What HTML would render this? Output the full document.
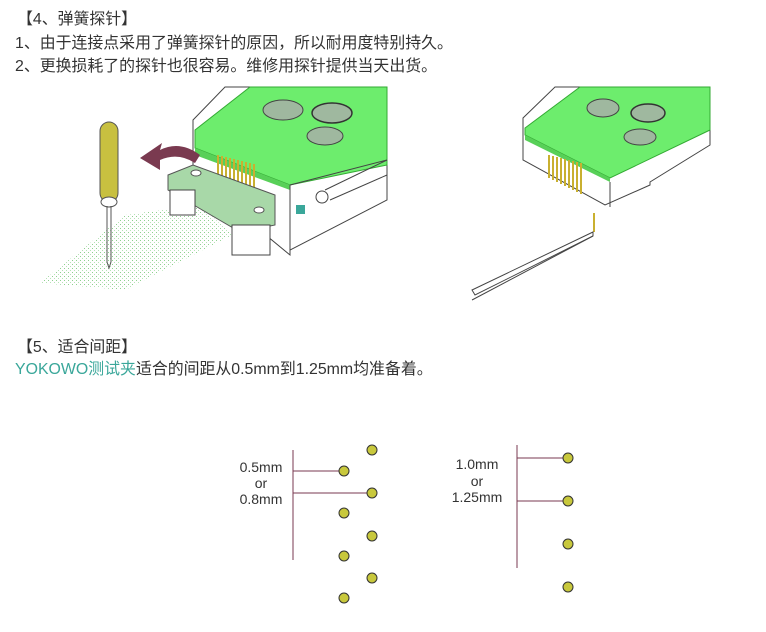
<!DOCTYPE html>
<html><head><meta charset="utf-8"><style>
body{margin:0;background:#fff;width:766px;height:632px;overflow:hidden;position:relative;font-family:"Liberation Sans","Noto Sans CJK SC",sans-serif;}
.t{position:absolute;font-size:15.9px;color:#333;white-space:nowrap;line-height:20px;}
svg{position:absolute;left:0;top:0}
</style></head><body>
<div class="t" style="left:17px;top:10px">【4、弹簧探针】</div>
<div class="t" style="left:15px;top:34px">1、由于连接点采用了弹簧探针的原因，所以耐用度特别持久。</div>
<div class="t" style="left:15px;top:57px">2、更换损耗了的探针也很容易。维修用探针提供当天出货。</div>
<div class="t" style="left:17px;top:338px">【5、适合间距】</div>
<div class="t" style="left:15px;top:360px"><span style="color:#3aa79a">YOKOWO测试夹</span>适合的间距从0.5mm到1.25mm均准备着。</div>

<svg width="766" height="632" viewBox="0 0 766 632">
<defs>
<pattern id="dots" width="4" height="4" patternUnits="userSpaceOnUse"><rect x="0" y="0" width="1" height="1" fill="#8fd08f"/><rect x="2" y="2" width="1" height="1" fill="#b5e3b5"/></pattern>
</defs>
<polygon points="40,283 125,290 232,235 200,205 125,215" fill="url(#dots)"/>
<polygon points="193,120 225,87 387,87 387,200 290,250 290,255 193,175" fill="#fff" stroke="#444" stroke-width="1"/>
<polygon points="195,130 250,87 387,87 387,165 290,185 195,148" fill="#6ded6d" stroke="#3a3" stroke-width="1"/>
<polygon points="195,148 290,185 290,190 195,155" fill="#58d058"/>
<ellipse cx="283" cy="110" rx="20" ry="10" fill="#9fb89f" stroke="#444"/>
<ellipse cx="332" cy="113" rx="20" ry="10" fill="#9fb89f" stroke="#333" stroke-width="1.5"/>
<ellipse cx="325" cy="136" rx="18" ry="9" fill="#9fb89f" stroke="#444"/>
<line x1="290" y1="185" x2="290" y2="255" stroke="#444"/>
<line x1="290" y1="185" x2="387" y2="160" stroke="#444"/>
<g stroke="#c9b030" stroke-width="2">
<line x1="218" y1="155" x2="218" y2="185"/><line x1="222" y1="156" x2="222" y2="188"/><line x1="226" y1="157" x2="226" y2="190"/><line x1="230" y1="158" x2="230" y2="192"/><line x1="234" y1="159" x2="234" y2="194"/><line x1="238" y1="160" x2="238" y2="196"/><line x1="242" y1="161" x2="242" y2="198"/><line x1="246" y1="162" x2="246" y2="200"/><line x1="250" y1="163" x2="250" y2="202"/><line x1="254" y1="164" x2="254" y2="204"/>
</g>
<polygon points="168,175 193,165 275,195 275,225 240,232 168,190" fill="#a8d8a8" stroke="#555"/>
<polygon points="170,190 195,190 195,215 170,215" fill="#fff" stroke="#444"/>
<polygon points="232,225 270,225 270,255 232,255" fill="#fff" stroke="#444"/>
<ellipse cx="196" cy="173" rx="5" ry="3" fill="#fff" stroke="#555"/>
<ellipse cx="259" cy="210" rx="5" ry="3" fill="#fff" stroke="#555"/>
<rect x="296" y="205" width="9" height="9" fill="#3aa79a"/>
<circle cx="322" cy="197" r="6" fill="#fff" stroke="#444"/>
<line x1="325" y1="190" x2="387" y2="160" stroke="#444"/>
<line x1="330" y1="200" x2="387" y2="175" stroke="#444"/>
<path d="M200,155 Q180,140 160,150 L162,143 L140,158 L160,170 L160,160 Q178,152 195,163 Z" fill="#7a3a50"/>
<rect x="100" y="122" width="18" height="80" rx="9" fill="#c8c040" stroke="#555"/>
<ellipse cx="109" cy="202" rx="8" ry="5" fill="#fff" stroke="#555"/>
<line x1="107" y1="206" x2="107" y2="262" stroke="#555"/><line x1="111" y1="206" x2="111" y2="262" stroke="#555"/>
<path d="M107,262 L109,268 L111,262" fill="none" stroke="#555"/>
<polygon points="523,118 555,87 710,87 710,145 650,182 650,185 605,205 523,160" fill="#fff" stroke="#444"/>
<polygon points="525,128 580,87 710,87 710,130 610,178 525,135" fill="#6ded6d" stroke="#3a3"/>
<polygon points="525,135 610,178 610,182 525,140" fill="#58d058"/>
<ellipse cx="603" cy="108" rx="16" ry="9" fill="#9fb89f" stroke="#444"/>
<ellipse cx="648" cy="113" rx="17" ry="9" fill="#9fb89f" stroke="#333" stroke-width="1.5"/>
<ellipse cx="640" cy="137" rx="16" ry="8" fill="#9fb89f" stroke="#444"/>
<line x1="610" y1="182" x2="610" y2="207" stroke="#444"/>
<g stroke="#c9b030" stroke-width="2">
<line x1="549" y1="155" x2="549" y2="178"/><line x1="553" y1="156" x2="553" y2="180"/><line x1="557" y1="157" x2="557" y2="182"/><line x1="561" y1="158" x2="561" y2="184"/><line x1="565" y1="159" x2="565" y2="186"/><line x1="569" y1="160" x2="569" y2="188"/><line x1="573" y1="161" x2="573" y2="190"/><line x1="577" y1="162" x2="577" y2="192"/><line x1="581" y1="163" x2="581" y2="194"/><line x1="594" y1="213" x2="594" y2="232"/>
</g>
<path d="M593,232 L472,290 L475,295 L593,236 Z" fill="#fff" stroke="#444"/>
<path d="M472,300 L593,236" stroke="#444" fill="none"/>
<g stroke="#7a3a50" stroke-width="1">
<line x1="293" y1="450" x2="293" y2="560"/>
<line x1="293" y1="471" x2="344" y2="471"/>
<line x1="293" y1="493" x2="372" y2="493"/>
<line x1="517" y1="445" x2="517" y2="568"/>
<line x1="517" y1="458" x2="568" y2="458"/>
<line x1="517" y1="501" x2="568" y2="501"/>
</g>
<g fill="#c8c83c" stroke="#333">
<circle cx="344" cy="471" r="5"/><circle cx="344" cy="513" r="5"/><circle cx="344" cy="556" r="5"/><circle cx="344" cy="598" r="5"/>
<circle cx="372" cy="450" r="5"/><circle cx="372" cy="493" r="5"/><circle cx="372" cy="536" r="5"/><circle cx="372" cy="578" r="5"/>
<circle cx="568" cy="458" r="5"/><circle cx="568" cy="501" r="5"/><circle cx="568" cy="544" r="5"/><circle cx="568" cy="587" r="5"/>
</g>
<g font-family="Liberation Sans,sans-serif" font-size="14" fill="#333" text-anchor="middle">
<text x="261" y="472">0.5mm</text><text x="261" y="488">or</text><text x="261" y="504">0.8mm</text>
<text x="477" y="469">1.0mm</text><text x="477" y="486">or</text><text x="477" y="502">1.25mm</text>
</g>
</svg>
</body></html>
